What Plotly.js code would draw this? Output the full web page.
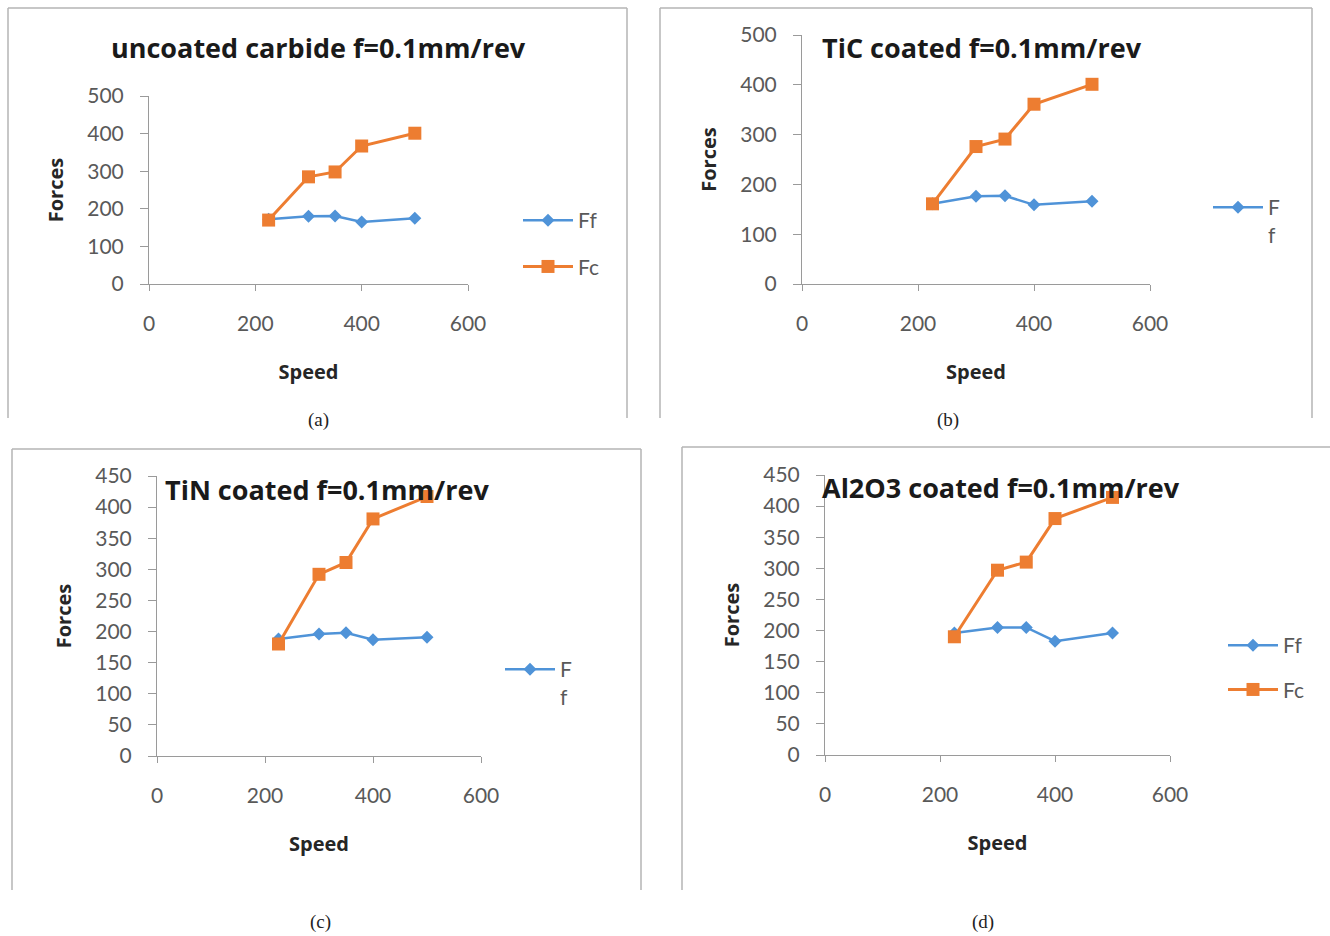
<!DOCTYPE html>
<html><head><meta charset="utf-8">
<script src="https://cdn.plot.ly/plotly-3.0.1.min.js"></script>
<style>html,body{margin:0;padding:0;background:#fff}#chart{width:1330px;height:936px}</style>
</head><body><div id="chart"></div>
<script>
// ---- data ----
const speed = [225, 300, 350, 400, 500];
const ffUncoated = [172, 180, 181, 165, 175];
const fcUncoated = [170, 285, 298, 367, 401];
const ffTiC = [161, 176, 177, 159, 166];
const fcTiC = [161, 276, 291, 361, 401];
const ffTiN = [188, 196, 198, 187, 191];
const fcTiN = [180, 292, 311, 381, 417];
const ffAl2O3 = [196, 205, 205, 183, 196];
const fcAl2O3 = [190, 297, 310, 380, 414];
const panelTitles = ['uncoated carbide f=0.1mm/rev', 'TiC coated f=0.1mm/rev', 'TiN coated f=0.1mm/rev', 'Al2O3 coated f=0.1mm/rev'];
const panelLabels = ['(a)', '(b)', '(c)', '(d)'];
const seriesNames = ['Ff', 'Fc'];
const wrappedFfName = 'F<br>f';
const xTicks = [0, 200, 400, 600];
const yTicks500 = [0, 100, 200, 300, 400, 500];
const yTicks450 = [0, 50, 100, 150, 200, 250, 300, 350, 400, 450];
const xAxisTitle = 'Speed';
const yAxisTitle = 'Forces';

// ---- style ----
const W = 1330, H = 936;
const px = v => v / W, py = v => 1 - v / H;
const BLUE = '#4f93d8', ORANGE = '#ed7d31';
const AX = '#9a9a9a', TICKTXT = '#595959', FRAME = '#b4b4b4';
const FONT = 'Lato, "Open Sans", sans-serif';
const BOLDFONT = '"Open Sans", Lato, sans-serif';

function ffTrace(y, xa, ya, name, legend, group) {
  return {x: speed, y: y, xaxis: xa, yaxis: ya, name: name, legend: legend, legendgroup: group,
    type: 'scatter', mode: 'lines+markers',
    line: {color: BLUE, width: 2.5}, marker: {symbol: 'diamond', size: 10, color: BLUE}};
}
function fcTrace(y, xa, ya, name, legend, group, show) {
  return {x: speed, y: y, xaxis: xa, yaxis: ya, name: name, legend: legend, legendgroup: group,
    showlegend: show, type: 'scatter', mode: 'lines+markers',
    line: {color: ORANGE, width: 3}, marker: {symbol: 'square', size: 13, color: ORANGE}};
}

const data = [
  ffTrace(ffUncoated, 'x', 'y', seriesNames[0], 'legend', 'a1'),
  fcTrace(fcUncoated, 'x', 'y', seriesNames[1], 'legend', 'a2', true),
  ffTrace(ffTiC, 'x2', 'y2', wrappedFfName, 'legend2', 'b1'),
  fcTrace(fcTiC, 'x2', 'y2', seriesNames[1], 'legend2', 'b2', false),
  ffTrace(ffTiN, 'x3', 'y3', wrappedFfName, 'legend3', 'c1'),
  fcTrace(fcTiN, 'x3', 'y3', seriesNames[1], 'legend3', 'c2', false),
  ffTrace(ffAl2O3, 'x4', 'y4', seriesNames[0], 'legend4', 'd1'),
  fcTrace(fcAl2O3, 'x4', 'y4', seriesNames[1], 'legend4', 'd2', true)
];

function xAxis(d0, d1, anchor) {
  return {domain: [px(d0), px(d1)], anchor: anchor, range: [0, 600], tickvals: xTicks,
    showgrid: false, zeroline: false, showline: true, linecolor: AX, linewidth: 1,
    ticks: 'outside', ticklen: 6, tickcolor: AX, tickwidth: 1, ticklabelstandoff: 15,
    tickfont: {family: FONT, size: 21, color: TICKTXT}, fixedrange: true,
    title: {text: xAxisTitle, standoff: 30, font: {family: BOLDFONT, size: 20, color: '#262626', weight: 'bold'}}};
}
function yAxis(d0, d1, anchor, top, ticks) {
  return {domain: [py(d0), py(d1)], anchor: anchor, range: [0, top], tickvals: ticks,
    showgrid: false, zeroline: false, showline: true, linecolor: AX, linewidth: 1,
    ticks: 'outside', ticklen: 8, tickcolor: AX, tickwidth: 1, ticklabelstandoff: 12,
    tickfont: {family: FONT, size: 21, color: TICKTXT}, fixedrange: true,
    title: {text: yAxisTitle, standoff: 18, font: {family: BOLDFONT, size: 20, color: '#262626', weight: 'bold'}}};
}

function legendAt(x, y, gap) {
  return {x: px(x), y: py(y), xanchor: 'left', yanchor: 'top', bgcolor: 'rgba(0,0,0,0)',
    font: {family: FONT, size: 21, color: TICKTXT}, tracegroupgap: gap, itemwidth: 50,
    valign: 'top', traceorder: 'grouped'};
}

function frame(l, t, r, b, right) {
  const s = [];
  const ln = {color: FRAME, width: 1.5};
  s.push({type: 'line', xref: 'paper', yref: 'paper', x0: px(l), x1: px(l), y0: py(t), y1: py(b), line: ln});
  s.push({type: 'line', xref: 'paper', yref: 'paper', x0: px(l), x1: px(r), y0: py(t), y1: py(t), line: ln});
  if (right) s.push({type: 'line', xref: 'paper', yref: 'paper', x0: px(r), x1: px(r), y0: py(t), y1: py(b), line: ln});
  return s;
}

const titleFont = {family: BOLDFONT, size: 27, color: '#1a1a1a', weight: 'bold'};
const labelFont = {family: '"Liberation Serif", serif', size: 19, color: '#222'};

const layout = {
  width: W, height: H, margin: {l: 0, r: 0, t: 0, b: 0},
  paper_bgcolor: '#fff', plot_bgcolor: 'rgba(0,0,0,0)', showlegend: true, hovermode: false,
  xaxis: xAxis(149, 468, 'y'), yaxis: yAxis(284, 96, 'x', 500, yTicks500),
  xaxis2: xAxis(802, 1150, 'y2'), yaxis2: yAxis(284, 35, 'x2', 500, yTicks500),
  xaxis3: xAxis(157, 481, 'y3'), yaxis3: yAxis(756, 476, 'x3', 450, yTicks450),
  xaxis4: xAxis(825, 1170, 'y4'), yaxis4: yAxis(755, 475, 'x4', 450, yTicks450),
  legend: legendAt(518, 200, 16), legend2: legendAt(1208, 187, 16), legend3: legendAt(500, 649, 16), legend4: legendAt(1223, 625, 14),
  shapes: [].concat(frame(8, 8, 627, 418, true), frame(660, 8, 1312, 418, true),
                    frame(12, 449, 641, 890, true), frame(682, 447, 1330, 890, false)),
  annotations: [
    {text: panelTitles[0], xref: 'paper', yref: 'paper', x: px(318), y: py(47), xanchor: 'center', yanchor: 'middle', showarrow: false, font: titleFont},
    {text: panelTitles[1], xref: 'paper', yref: 'paper', x: px(820), y: py(47), xanchor: 'left', yanchor: 'middle', showarrow: false, font: titleFont},
    {text: panelTitles[2], xref: 'paper', yref: 'paper', x: px(163), y: py(489), xanchor: 'left', yanchor: 'middle', showarrow: false, font: titleFont},
    {text: panelTitles[3], xref: 'paper', yref: 'paper', x: px(820), y: py(487), xanchor: 'left', yanchor: 'middle', showarrow: false, font: titleFont},
    {text: panelLabels[0], xref: 'paper', yref: 'paper', x: px(318), y: py(420), xanchor: 'center', yanchor: 'middle', showarrow: false, font: labelFont},
    {text: panelLabels[1], xref: 'paper', yref: 'paper', x: px(948), y: py(420), xanchor: 'center', yanchor: 'middle', showarrow: false, font: labelFont},
    {text: panelLabels[2], xref: 'paper', yref: 'paper', x: px(320), y: py(922), xanchor: 'center', yanchor: 'middle', showarrow: false, font: labelFont},
    {text: panelLabels[3], xref: 'paper', yref: 'paper', x: px(983), y: py(922), xanchor: 'center', yanchor: 'middle', showarrow: false, font: labelFont}
  ]
};

Plotly.newPlot('chart', data, layout, {staticPlot: true, displayModeBar: false});
</script></body></html>
